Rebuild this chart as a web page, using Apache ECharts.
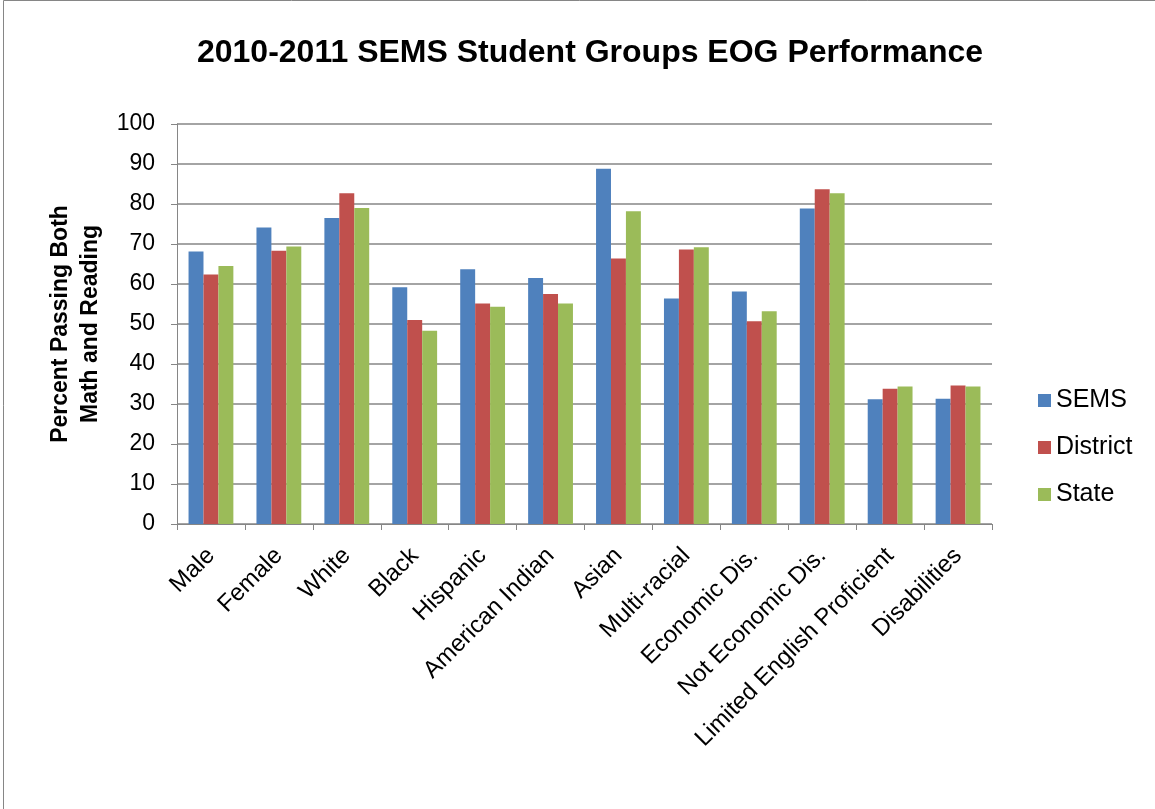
<!DOCTYPE html>
<html>
<head>
<meta charset="utf-8">
<script src="https://cdn.jsdelivr.net/npm/echarts@6/dist/echarts.min.js"></script>
<style>
  html, body { margin: 0; padding: 0; background: #fff; }
  #chart { width: 1155px; height: 809px; }
</style>
</head>
<body>
<div id="chart"></div>
<script>
// Student groups along the x axis
const categories = ['Male', 'Female', 'White', 'Black', 'Hispanic', 'American Indian', 'Asian',
  'Multi-racial', 'Economic Dis.', 'Not Economic Dis.', 'Limited English Proficient', 'Disabilities'];

// Percent passing both math and reading
const semsValues = [68.1, 74.1, 76.5, 59.2, 63.7, 61.5, 88.8, 56.4, 58.1, 78.9, 31.2, 31.3];
const districtValues = [62.4, 68.3, 82.7, 51.0, 55.1, 57.5, 66.4, 68.6, 50.7, 83.7, 33.8, 34.6];
const stateValues = [64.5, 69.4, 79.0, 48.3, 54.3, 55.1, 78.2, 69.2, 53.2, 82.7, 34.4, 34.4];

const seriesNames = ['SEMS', 'District', 'State'];
const colors = ['#4F81BD', '#C0504D', '#9BBB59'];

const font = 'Liberation Sans, Arial, sans-serif';

const chart = echarts.init(document.getElementById('chart'));

function bar(name, data, color) {
  return {
    name: name,
    type: 'bar',
    data: data,
    barGap: '0%',
    barCategoryGap: '34%',
    itemStyle: { color: color },
    emphasis: { disabled: true }
  };
}

chart.setOption({
  animation: false,
  backgroundColor: '#fff',
  title: {
    text: '2010-2011 SEMS Student Groups EOG Performance',
    left: 585,
    textAlign: 'center',
    top: 32,
    textStyle: { fontFamily: font, fontSize: 32, fontWeight: 'bold', color: '#000' }
  },
  legend: {
    orient: 'vertical',
    left: 1033,
    top: 383,
    itemWidth: 13,
    itemHeight: 13,
    itemGap: 22,
    icon: 'rect',
    textStyle: { fontFamily: font, fontSize: 25, color: '#000', padding: [0, 0, 0, 0] },
    data: seriesNames
  },
  grid: { left: 177, right: 163, top: 124, bottom: 285, containLabel: false },
  xAxis: {
    type: 'category',
    data: categories,
    axisLine: { lineStyle: { color: '#868686', width: 1 } },
    axisTick: { show: true, length: 6, lineStyle: { color: '#868686' } },
    axisLabel: {
      rotate: 45,
      interval: 0,
      margin: 28,
      fontFamily: font,
      fontSize: 24,
      color: '#000'
    }
  },
  yAxis: {
    type: 'value',
    min: 0,
    max: 100,
    interval: 10,
    name: 'Percent Passing Both\nMath and Reading',
    nameLocation: 'middle',
    nameGap: 68,
    nameRotate: 90,
    nameTextStyle: { fontFamily: font, fontSize: 23, fontWeight: 'bold', color: '#000', lineHeight: 30 },
    axisLine: { show: true, lineStyle: { color: '#868686', width: 1 } },
    axisTick: { show: true, length: 6, lineStyle: { color: '#868686' } },
    axisLabel: { fontFamily: font, fontSize: 23, color: '#000', margin: 22 },
    splitLine: { lineStyle: { color: '#868686', width: 1.5 } }
  },
  graphic: [{
    type: 'rect',
    shape: { x: 3.5, y: 0.5, width: 1160, height: 820 },
    style: { fill: 'none', stroke: '#868686', lineWidth: 1 },
    silent: true
  }],
  series: [
    bar(seriesNames[0], semsValues, colors[0]),
    bar(seriesNames[1], districtValues, colors[1]),
    bar(seriesNames[2], stateValues, colors[2])
  ]
});
</script>
</body>
</html>
